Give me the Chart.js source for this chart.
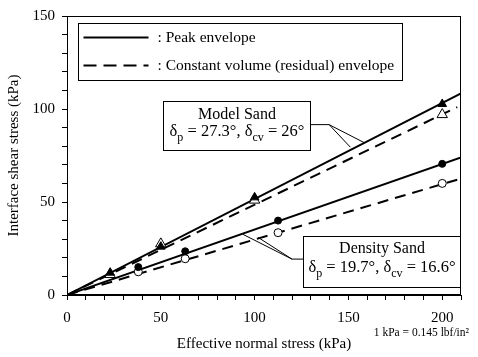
<!DOCTYPE html>
<html>
<head>
<meta charset="utf-8">
<script src="https://cdn.jsdelivr.net/npm/chart.js@4.4.1/dist/chart.umd.min.js"></script>
<style>
  html, body { margin: 0; padding: 0; background: #fff; }
  #wrap { width: 478px; height: 357px; position: relative; }
</style>
</head>
<body>
<div id="wrap"><canvas id="c" width="478" height="357"></canvas></div>
<script>
// ---- data ----
const modelPeakX = [23, 50, 100, 200];
const modelPeakY = [12, 26, 52.5, 102.7];
const modelCvX = [23, 50, 100, 200];
const modelCvY = [11, 27.5, 51, 97];
const densityPeakX = [38, 63, 112.5, 200];
const densityPeakY = [15, 23.5, 40, 70.5];
const densityCvX = [38, 63, 112.5, 200];
const densityCvY = [12.5, 19.5, 33.5, 60];
// envelope lines (start, end)
const modelPeakLineX = [0, 210];
const modelPeakLineY = [0, 108.4];
const modelCvLineX = [0, 208];
const modelCvLineY = [0, 101];
const densityPeakLineX = [0, 210];
const densityPeakLineY = [0, 74];
const densityCvLineX = [0, 208];
const densityCvLineY = [0, 62];
// tick labels
const xTickLabels = [0, 50, 100, 150, 200];
const yTickLabels = [0, 50, 100, 150];
// texts
const xTitle = 'Effective normal stress (kPa)';
const yTitle = 'Interface shear stress (kPa)';
const legendTexts = [': Peak envelope', ': Constant volume (residual) envelope'];
const unitNote = '1 kPa = 0.145 lbf/in²';

const pts = (xs, ys) => xs.map((x, i) => ({x: x, y: ys[i]}));
const SERIF = '"Liberation Serif", "Times New Roman", serif';

const lineDs = (xs, ys, dashed) => ({
  data: pts(xs, ys), showLine: true, pointRadius: 0, borderColor: '#000',
  borderWidth: 2, borderDash: dashed ? [11, 7] : [], fill: false, order: 2
});
const markDs = (xs, ys, style, filled, r) => ({
  data: pts(xs, ys), showLine: false, pointStyle: style, pointRadius: r,
  pointBackgroundColor: filled ? '#000' : '#fff', pointBorderColor: '#000',
  pointBorderWidth: 1, order: 0
});

function drawRich(ctx, segs, cx, y, size) {
  const subSize = Math.round(size * 0.7);
  let w = 0;
  segs.forEach(s => {
    ctx.font = (s.sub ? subSize : size) + 'px ' + SERIF;
    s.w = ctx.measureText(s.t).width; w += s.w;
  });
  let x = cx - w / 2;
  ctx.textAlign = 'left'; ctx.textBaseline = 'middle';
  segs.forEach(s => {
    ctx.font = (s.sub ? subSize : size) + 'px ' + SERIF;
    ctx.fillText(s.t, x, s.sub ? y + 6 : y);
    x += s.w;
  });
}

const decor = {
  id: 'decor',
  afterDatasetsDraw(chart) {
    const {ctx, chartArea: a, scales: {x, y}} = chart;
    const px = v => x.getPixelForValue(v), py = v => y.getPixelForValue(v);
    ctx.save();
    ctx.strokeStyle = '#000'; ctx.fillStyle = '#000'; ctx.lineWidth = 1;
    // frame
    ctx.strokeRect(a.left + 0.5, a.top + 0.5, a.right - a.left - 1, a.bottom - a.top - 1);

    const box = (x0, y0, x1, y1) => {
      const l = Math.round(px(x0)) + 0.5, t = Math.round(py(y0)) + 0.5;
      const r = Math.round(px(x1)) + 0.5, b = Math.round(py(y1)) + 0.5;
      ctx.fillStyle = '#fff'; ctx.fillRect(l, t, r - l, b - t);
      ctx.strokeStyle = '#000'; ctx.lineWidth = 1; ctx.strokeRect(l, t, r - l, b - t);
      ctx.fillStyle = '#000';
      return {l, t, r, b};
    };
    // legend box
    const lg = box(5.9, 146.3, 178.6, 115.7);
    ctx.lineWidth = 2;
    [[0, []], [1, [13, 7]]].forEach(([i, d]) => {
      const yy = lg.t + 14 + i * 28;
      ctx.setLineDash(d);
      ctx.beginPath(); ctx.moveTo(lg.l + 5, yy); ctx.lineTo(lg.l + 70, yy); ctx.stroke();
      ctx.setLineDash([]);
      ctx.font = '15.5px ' + SERIF; ctx.textAlign = 'left'; ctx.textBaseline = 'middle';
      ctx.fillText(legendTexts[i], lg.l + 79, yy);
    });

    // leader lines
    ctx.lineWidth = 1;
    const path = (p) => {
      ctx.beginPath(); ctx.moveTo(px(p[0][0]), py(p[0][1]));
      for (let k = 1; k < p.length; k++) ctx.lineTo(px(p[k][0]), py(p[k][1]));
      ctx.stroke();
    };
    path([[129.5, 91.6], [139.7, 91.6], [158.8, 81.7]]);
    path([[139.7, 91.6], [151, 79.5]]);
    path([[125.8, 19.3], [119.9, 19.3], [93.8, 32.6]]);
    path([[119.9, 19.3], [101.8, 31]]);

    // Model sand box
    const mb = box(51.2, 104.5, 129.5, 77.7);
    const mcx = (mb.l + mb.r) / 2;
    ctx.font = '16px ' + SERIF; ctx.textAlign = 'center'; ctx.textBaseline = 'middle';
    ctx.fillText('Model Sand', mcx, mb.t + 13);
    drawRich(ctx, [{t: 'δ'}, {t: 'p', sub: true}, {t: ' = 27.3°, δ'}, {t: 'cv', sub: true}, {t: ' = 26°'}], mcx, mb.t + 30, 16.5);

    // Density sand box
    const db = box(125.8, 31.6, 209.5, 4.3);
    const dcx = (db.l + db.r) / 2;
    ctx.font = '16px ' + SERIF; ctx.textAlign = 'center'; ctx.textBaseline = 'middle';
    ctx.fillText('Density Sand', dcx, db.t + 12);
    drawRich(ctx, [{t: 'δ'}, {t: 'p', sub: true}, {t: ' = 19.7°, δ'}, {t: 'cv', sub: true}, {t: ' = 16.6°'}], dcx, db.t + 31, 16.5);

    // unit note
    ctx.font = '11.5px ' + SERIF; ctx.textAlign = 'right'; ctx.textBaseline = 'middle';
    ctx.fillText(unitNote, 469, 333);
    ctx.restore();
  }
};

new Chart(document.getElementById('c'), {
  type: 'scatter',
  data: {
    datasets: [
      markDs(modelPeakX, modelPeakY, 'triangle', true, 5),
      markDs(modelCvX, modelCvY, 'triangle', false, 6),
      markDs(densityPeakX, densityPeakY, 'circle', true, 3.5),
      markDs(densityCvX, densityCvY, 'circle', false, 4),
      lineDs(modelPeakLineX, modelPeakLineY, false),
      lineDs(modelCvLineX, modelCvLineY, true),
      lineDs(densityPeakLineX, densityPeakLineY, false),
      lineDs(densityCvLineX, densityCvLineY, true)
    ]
  },
  options: {
    responsive: false, animation: false, devicePixelRatio: 1,
    layout: {padding: {left: 0, right: 17, top: 15, bottom: 0}},
    plugins: {legend: {display: false}, tooltip: {enabled: false}},
    scales: {
      x: {
        type: 'linear', min: 0, max: 210,
        afterFit: s => { s.height = 62; },
        ticks: {stepSize: 10, autoSkip: false, maxRotation: 0, color: '#000', padding: 9,
          font: {family: SERIF, size: 15},
          callback: v => xTickLabels.includes(v) ? String(v) : ''},
        grid: {drawOnChartArea: false, drawTicks: true, tickLength: 5, tickColor: '#000'},
        border: {display: true, color: '#000', width: 1},
        title: {display: true, text: xTitle, color: '#000', font: {family: SERIF, size: 15}, padding: {top: 0, bottom: 4}}
      },
      y: {
        type: 'linear', min: 0, max: 150,
        afterFit: s => { s.width = 67; },
        ticks: {stepSize: 10, autoSkip: false, color: '#000', padding: 7,
          font: {family: SERIF, size: 15},
          callback: v => yTickLabels.includes(v) ? String(v) : ''},
        grid: {drawOnChartArea: false, drawTicks: true, tickLength: 5, tickColor: '#000'},
        border: {display: true, color: '#000', width: 1},
        title: {display: true, text: yTitle, color: '#000', font: {family: SERIF, size: 15}, padding: {top: 5, bottom: 0}}
      }
    }
  },
  plugins: [decor]
});
</script>
</body>
</html>
